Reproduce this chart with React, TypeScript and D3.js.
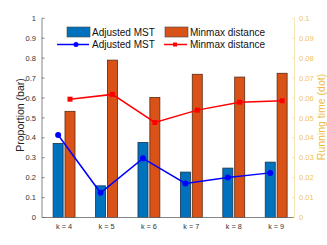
import React from "react";
import * as d3 from "d3";

const categories = ["k = 4", "k = 5", "k = 6", "k = 7", "k = 8", "k = 9"];
const mstProportion = [0.372, 0.159, 0.377, 0.228, 0.248, 0.278];
const minmaxProportion = [0.533, 0.79, 0.603, 0.719, 0.705, 0.724];
const mstTime = [0.0414, 0.0124, 0.0297, 0.0171, 0.0201, 0.0224];
const minmaxTime = [0.0594, 0.0618, 0.0477, 0.0539, 0.0579, 0.0586];
const leftTicks = [0, 0.1, 0.2, 0.3, 0.4, 0.5, 0.6, 0.7, 0.8, 0.9, 1];
const rightTicks = [0, 0.01, 0.02, 0.03, 0.04, 0.05, 0.06, 0.07, 0.08, 0.09, 0.1];

const W = 327, H = 245;
const FONT = "'Liberation Sans', Arial, Helvetica, sans-serif";
const BLUE = "#0072BD", ORANGE = "#D95319", GOLD = "#EDB120";

export default function App() {
  const x = d3.scaleLinear().domain([0.48, 6.42]).range([42, 294]);
  const yL = d3.scaleLinear().domain([0, 1]).range([217.5, 18.3]);
  const yR = d3.scaleLinear().domain([0, 0.1]).range([217.5, 18.3]);
  const off = 0.14, bw = x(0.236) - x(0);
  const blueX = (i: number) => x(i + 1 - off);
  const orangeX = (i: number) => x(i + 1 + off);
  const lineBlue = d3.line<number>().x((_, i) => blueX(i)).y((d) => yR(d));
  const lineRed = d3.line<number>().x((_, i) => orangeX(i)).y((d) => yR(d));

  return (
    <svg width={W} height={H} style={{ position: "absolute", left: 0, top: 0, background: "#fff" }} fontFamily={FONT}>
      {/* bars */}
      {mstProportion.map((v, i) => (
        <rect key={"b" + i} x={blueX(i) - bw / 2} y={yL(v)} width={bw} height={yL(0) - yL(v)}
          fill={BLUE} stroke="#1a3550" strokeWidth={0.8} />
      ))}
      {minmaxProportion.map((v, i) => (
        <rect key={"o" + i} x={orangeX(i) - bw / 2} y={yL(v)} width={bw} height={yL(0) - yL(v)}
          fill={ORANGE} stroke="#5a2a10" strokeWidth={0.8} />
      ))}
      {/* lines */}
      <path d={lineRed(minmaxTime) || ""} fill="none" stroke="#FF0000" strokeWidth={1.5} />
      {minmaxTime.map((v, i) => (
        <rect key={"rm" + i} x={orangeX(i) - 2.5} y={yR(v) - 2.5} width={5} height={5} fill="#FF0000" />
      ))}
      <path d={lineBlue(mstTime) || ""} fill="none" stroke="#0000FF" strokeWidth={1.5} />
      {mstTime.map((v, i) => (
        <circle key={"bm" + i} cx={blueX(i)} cy={yR(v)} r={3} fill="#0000FF" />
      ))}
      {/* left axis */}
      <line x1={42} x2={42} y1={yL(0)} y2={yL(1)} stroke="#666" strokeWidth={0.8} />
      {leftTicks.map((t) => (
        <g key={"lt" + t}>
          <line x1={42} x2={44.5} y1={yL(t)} y2={yL(t)} stroke="#666" strokeWidth={0.8} />
          <text x={36} y={yL(t) + 2.6} fontSize={7.5} fill="#333" textAnchor="end">{t}</text>
        </g>
      ))}
      {/* bottom axis */}
      <line x1={42} x2={294} y1={yL(0)} y2={yL(0)} stroke="#666" strokeWidth={0.8} />
      {categories.map((c, i) => (
        <text key={c} x={x(i + 1)} y={229} fontSize={7.3} fill="#333" textAnchor="middle">{c}</text>
      ))}
      {/* right axis */}
      <line x1={294.5} x2={294.5} y1={yR(0)} y2={yR(0.1)} stroke={GOLD} strokeOpacity={0.4} strokeWidth={0.8} />
      {rightTicks.map((t) => (
        <g key={"rt" + t}>
          <line x1={292} x2={294.5} y1={yR(t)} y2={yR(t)} stroke={GOLD} strokeOpacity={0.4} strokeWidth={0.8} />
          <text x={299} y={yR(t) + 2.6} fontSize={7.5} fill={GOLD} fillOpacity={0.8}>{t}</text>
        </g>
      ))}
      {/* axis labels */}
      <text transform={`translate(23.5,${115}) rotate(-90)`} fontSize={10.5} fill="#222" textAnchor="middle">Proportion (bar)</text>
      <text transform={`translate(324.5,${117}) rotate(-90)`} fontSize={10.5} fill={GOLD} fillOpacity={0.9} textAnchor="middle">Running time (dot)</text>
      {/* legend */}
      <rect x={67} y={27} width={23} height={10} fill={BLUE} stroke="#444" strokeWidth={0.6} />
      <text x={92} y={35.6} fontSize={10} fill="#111">Adjusted MST</text>
      <rect x={165} y={27} width={23} height={10} fill={ORANGE} stroke="#444" strokeWidth={0.6} />
      <text x={190} y={35.6} fontSize={10} fill="#111">Minmax distance</text>
      <line x1={57} x2={89} y1={44.5} y2={44.5} stroke="#0000FF" strokeWidth={1.5} />
      <circle cx={76} cy={44.5} r={2.5} fill="#0000FF" />
      <text x={92} y={48} fontSize={10} fill="#111">Adjusted MST</text>
      <line x1={164} x2={187} y1={44.5} y2={44.5} stroke="#FF0000" strokeWidth={1.5} />
      <rect x={173} y={42.5} width={4} height={4} fill="#FF0000" />
      <text x={190} y={48} fontSize={10} fill="#111">Minmax distance</text>
    </svg>
  );
}
